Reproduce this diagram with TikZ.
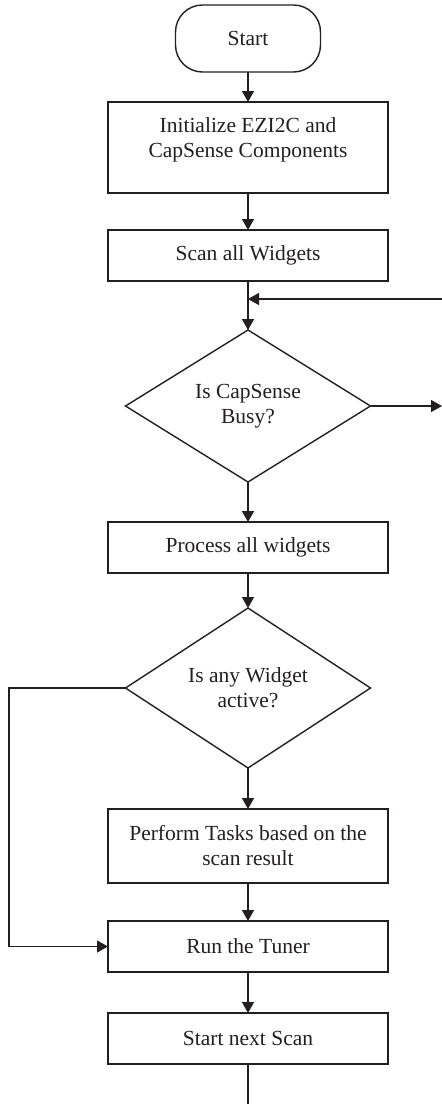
\documentclass[tikz,border=0pt]{standalone}
\usepackage{fontspec}
\setmainfont{Liberation Serif}
\usetikzlibrary{arrows.meta,shapes.geometric}
\definecolor{ink}{HTML}{231F20}
\begin{document}
\begin{tikzpicture}[x=1pt,y=-1pt,
  every node/.style={inner sep=0pt, outer sep=0pt, text=ink, font=\fontsize{21.5}{25}\selectfont, align=center},
  line/.style={draw=ink, line width=1.4pt},
  box/.style={line, rectangle, minimum width=280pt},
  term/.style={line, rectangle, rounded corners=27pt, minimum width=145pt, minimum height=67pt},
  decide/.style={line, diamond, minimum width=245pt, minimum height=152pt},
  flow/.style={draw=ink, line width=1.4pt, -{Triangle[length=11pt,width=12pt]}},
  plain/.style={draw=ink, line width=1.4pt}]
\useasboundingbox (0,0) rectangle (442,1104);

% process nodes, top to bottom
\node[term] (start) at (248,38.5) {Start};
\node[box, minimum height=91pt] (init) at (248,147.5) {};
\node (inittxt) at (248,140) {Initialize EZI2C and\\CapSense Components};
\node[box, minimum height=51pt] (scan) at (248,255.5) {Scan all Widgets};
\node[decide] (busy) at (248,406) {Is CapSense\\Busy?};
\node[box, minimum height=51pt] (proc) at (248,547.5) {Process all widgets};
\node[decide] (active) at (248,688) {Is any Widget\\active?};
\node[box, minimum height=74pt] (tasks) at (248,846) {Perform Tasks based on the\\scan result};
\node[box, minimum height=51pt] (tuner) at (248,946.5) {Run the Tuner};
\node[box, minimum height=51pt] (next) at (248,1038.5) {Start next Scan};

% free ends of the loop connectors
\coordinate (loopin) at (442,299);
\coordinate (busyout) at (442,406);
\coordinate (leftx) at (9,688);
\coordinate (bottom) at (248,1104);

\draw[flow] (start) -- (init);
\draw[flow] (init) -- (scan);
\draw[flow] (scan) -- (busy.north);
\draw[flow] (loopin) -- (248,299);
\draw[flow] (busy.east) -- (busyout);
\draw[flow] (busy.south) -- (proc);
\draw[flow] (proc) -- (active.north);
\draw[flow] (active.south) -- (tasks);
\draw[flow] (active.west) -- (leftx) |- (tuner.west);
\draw[flow] (tasks) -- (tuner);
\draw[flow] (tuner) -- (next);
\draw[plain] (next) -- (bottom);
\end{tikzpicture}
\end{document}
